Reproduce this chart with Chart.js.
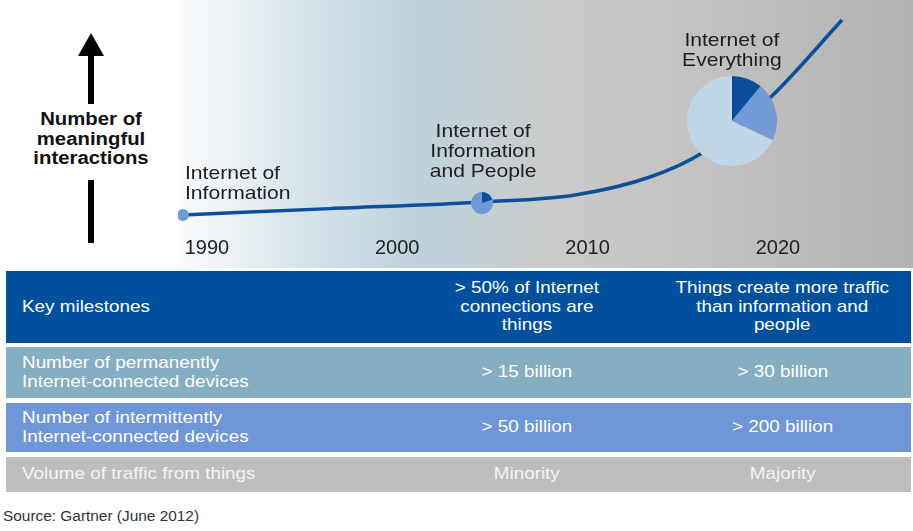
<!DOCTYPE html>
<html lang="en">

<head>
    <meta charset="UTF-8" />
    <title>Internet of Everything</title>
    <script src="https://cdn.jsdelivr.net/npm/chart.js"></script>
    <style>
        body {
            margin: 0;
            width: 913px;
            height: 531px;
            background: #fff;
            font-family: 'Liberation Sans', Arial, sans-serif;
            position: relative;
            overflow: hidden;
        }

        #top {
            position: absolute;
            left: 178px;
            top: 0;
            width: 735px;
            height: 268px;
        }

        #top canvas.pie {
            position: absolute;
        }

        .note {
            position: absolute;
            font-size: 19px;
            line-height: 20px;
            color: #1e1e1e;
            white-space: nowrap;
        }

        .note span,
        .cell span,
        #source span {
            display: inline-block;
            transform: scaleX(1.11);
        }

        #axisLabel {
            position: absolute;
            left: 11px;
            width: 160px;
            top: 110px;
            text-align: center;
            font-weight: bold;
            font-size: 18px;
            line-height: 19.5px;
            color: #111;
        }

        #axisLabel span {
            display: inline-block;
            transform: scaleX(1.13);
        }

        .shaft {
            position: absolute;
            left: 88px;
            width: 6px;
            background: #000;
        }

        #head {
            position: absolute;
            left: 78px;
            top: 33px;
            width: 0;
            height: 0;
            border-left: 13.5px solid transparent;
            border-right: 13.5px solid transparent;
            border-bottom: 23px solid #000;
        }

        .row {
            position: absolute;
            left: 6px;
            width: 905px;
            display: flex;
            color: #fff;
            font-size: 17px;
            line-height: 18.5px;
        }

        .cell {
            display: flex;
            align-items: center;
        }

        .c1 {
            width: 378px;
            padding-left: 16px;
        }

        .c1 span {
            transform-origin: left center;
        }

        .c2 {
            width: 254px;
            justify-content: center;
            text-align: center;
        }

        .c3 {
            width: 257px;
            justify-content: center;
            text-align: center;
        }

        #source {
            position: absolute;
            left: 3px;
            top: 508px;
            font-size: 14px;
            line-height: 16px;
            color: #333;
        }

        #source span {
            transform-origin: left center;
            transform: scaleX(1.1);
        }
    </style>
</head>

<body>
    <div id="head"></div>
    <div class="shaft" style="top:54px;height:50px"></div>
    <div class="shaft" style="top:180px;height:63px"></div>
    <div id="axisLabel"><span>Number of<br>meaningful<br>interactions</span></div>

    <div id="top">
        <canvas id="lineChart" width="735" height="268"></canvas>
        <canvas id="smallPie" class="pie" width="22" height="22"></canvas>
        <canvas id="bigPie" class="pie" width="90" height="90"></canvas>
        <div class="note" style="left:7px;top:163px"><span style="transform-origin:left center">Internet of<br>Information</span></div>
        <div class="note" style="left:205px;width:200px;top:121px;text-align:center"><span>Internet of<br>Information<br>and People</span></div>
        <div class="note" style="left:454px;width:200px;top:30px;text-align:center"><span>Internet of<br>Everything</span></div>
    </div>

    <div id="table"></div>
    <div id="source"><span>Source: Gartner (June 2012)</span></div>

    <script>
        // interaction curve (years, relative level 0-100)
        const years = [1988.74, 1996.46, 2004.5, 2009.34, 2013.28, 2016.01, 2019.58, 2023.37];
        const interactions = [8.9, 11.6, 14.4, 17.4, 25.0, 35.2, 58.5, 91.5];
        const tickYears = [1990, 2000, 2010, 2020];

        // pies sitting on the curve
        const smallPieAt = [2004.45, 14.0];
        const smallPieShares = [20, 80];
        const bigPieAt = [2017.59, 48.7];
        const bigPieShares = [11, 21, 68];

        // table below the chart
        const rowLabels = [
            'Key milestones',
            'Number of permanently<br>Internet-connected devices',
            'Number of intermittently<br>Internet-connected devices',
            'Volume of traffic from things'
        ];
        const col2015 = ['&gt; 50% of Internet<br>connections are<br>things', '&gt; 15 billion', '&gt; 50 billion', 'Minority'];
        const col2020 = ['Things create more traffic<br>than information and<br>people', '&gt; 30 billion', '&gt; 200 billion', 'Majority'];

        const rowBoxes = [[271, 72, '#00509d'], [347, 51, '#85aec2'], [403, 49, '#6f96d6'], [457, 35, '#bdbdbd']];

        const table = document.getElementById('table');
        rowLabels.forEach((label, i) => {
            const [top, h, bg] = rowBoxes[i];
            const row = document.createElement('div');
            row.className = 'row';
            row.style.top = top + 'px';
            row.style.height = h + 'px';
            row.style.background = bg;
            if (i === 3) row.style.color = '#f4f4f4';
            row.innerHTML =
                `<div class="cell c1"><span>${label}</span></div>` +
                `<div class="cell c2"><span>${col2015[i]}</span></div>` +
                `<div class="cell c3"><span>${col2020[i]}</span></div>`;
            table.appendChild(row);
        });

        const bgGradient = {
            id: 'bgGradient',
            beforeDraw(chart) {
                const { ctx, width, height } = chart;
                const g = ctx.createLinearGradient(0, 0, width, 0);
                g.addColorStop(0, '#fbfcfd');
                g.addColorStop(0.166, '#d7e4eb');
                g.addColorStop(0.33, '#bdd1dc');
                g.addColorStop(0.41, '#c3cfd5');
                g.addColorStop(0.506, '#cacaca');
                g.addColorStop(0.71, '#c2c2c2');
                g.addColorStop(1, '#b2b2b2');
                ctx.save();
                ctx.fillStyle = g;
                ctx.fillRect(0, 0, width, height);
                ctx.restore();
            }
        };

        const lineChart = new Chart(document.getElementById('lineChart'), {
            type: 'line',
            data: {
                datasets: [{
                    data: years.map((x, i) => ({ x: x, y: interactions[i] })),
                    borderColor: '#0d4f9a',
                    borderWidth: 3.5,
                    cubicInterpolationMode: 'monotone',
                    pointRadius: years.map((_, i) => i === 0 ? 6 : 0),
                    pointBackgroundColor: '#6f98d6',
                    pointBorderWidth: 0,
                    clip: false
                }]
            },
            options: {
                responsive: false,
                animation: false,
                events: [],
                layout: { autoPadding: false, padding: { bottom: 8 } },
                plugins: { legend: { display: false }, tooltip: { enabled: false } },
                scales: {
                    x: {
                        type: 'linear',
                        min: 1988.48,
                        max: 2027.1,
                        grid: { display: false, drawTicks: false },
                        border: { display: false },
                        afterBuildTicks: s => { s.ticks = tickYears.map(v => ({ value: v })); },
                        ticks: {
                            padding: 0,
                            maxRotation: 0,
                            color: '#222',
                            font: { size: 20, family: "'Liberation Sans', Arial, sans-serif" },
                            callback: v => String(v)
                        }
                    },
                    y: { display: false, min: 0, max: 100 }
                }
            },
            plugins: [bgGradient]
        });

        function makePie(id, at, shares, colors) {
            const canvas = document.getElementById(id);
            const px = lineChart.scales.x.getPixelForValue(at[0]);
            const py = lineChart.scales.y.getPixelForValue(at[1]);
            canvas.style.left = (px - canvas.width / 2) + 'px';
            canvas.style.top = (py - canvas.height / 2) + 'px';
            new Chart(canvas, {
                type: 'pie',
                data: { datasets: [{ data: shares, backgroundColor: colors, borderWidth: 0 }] },
                options: {
                    responsive: false,
                    animation: false,
                    events: [],
                    plugins: { legend: { display: false }, tooltip: { enabled: false } }
                }
            });
        }

        makePie('smallPie', smallPieAt, smallPieShares, ['#0b4e9b', '#7198d6']);
        makePie('bigPie', bigPieAt, bigPieShares, ['#0b4e9b', '#7399d7', '#c0d5e5']);
    </script>
</body>

</html>
